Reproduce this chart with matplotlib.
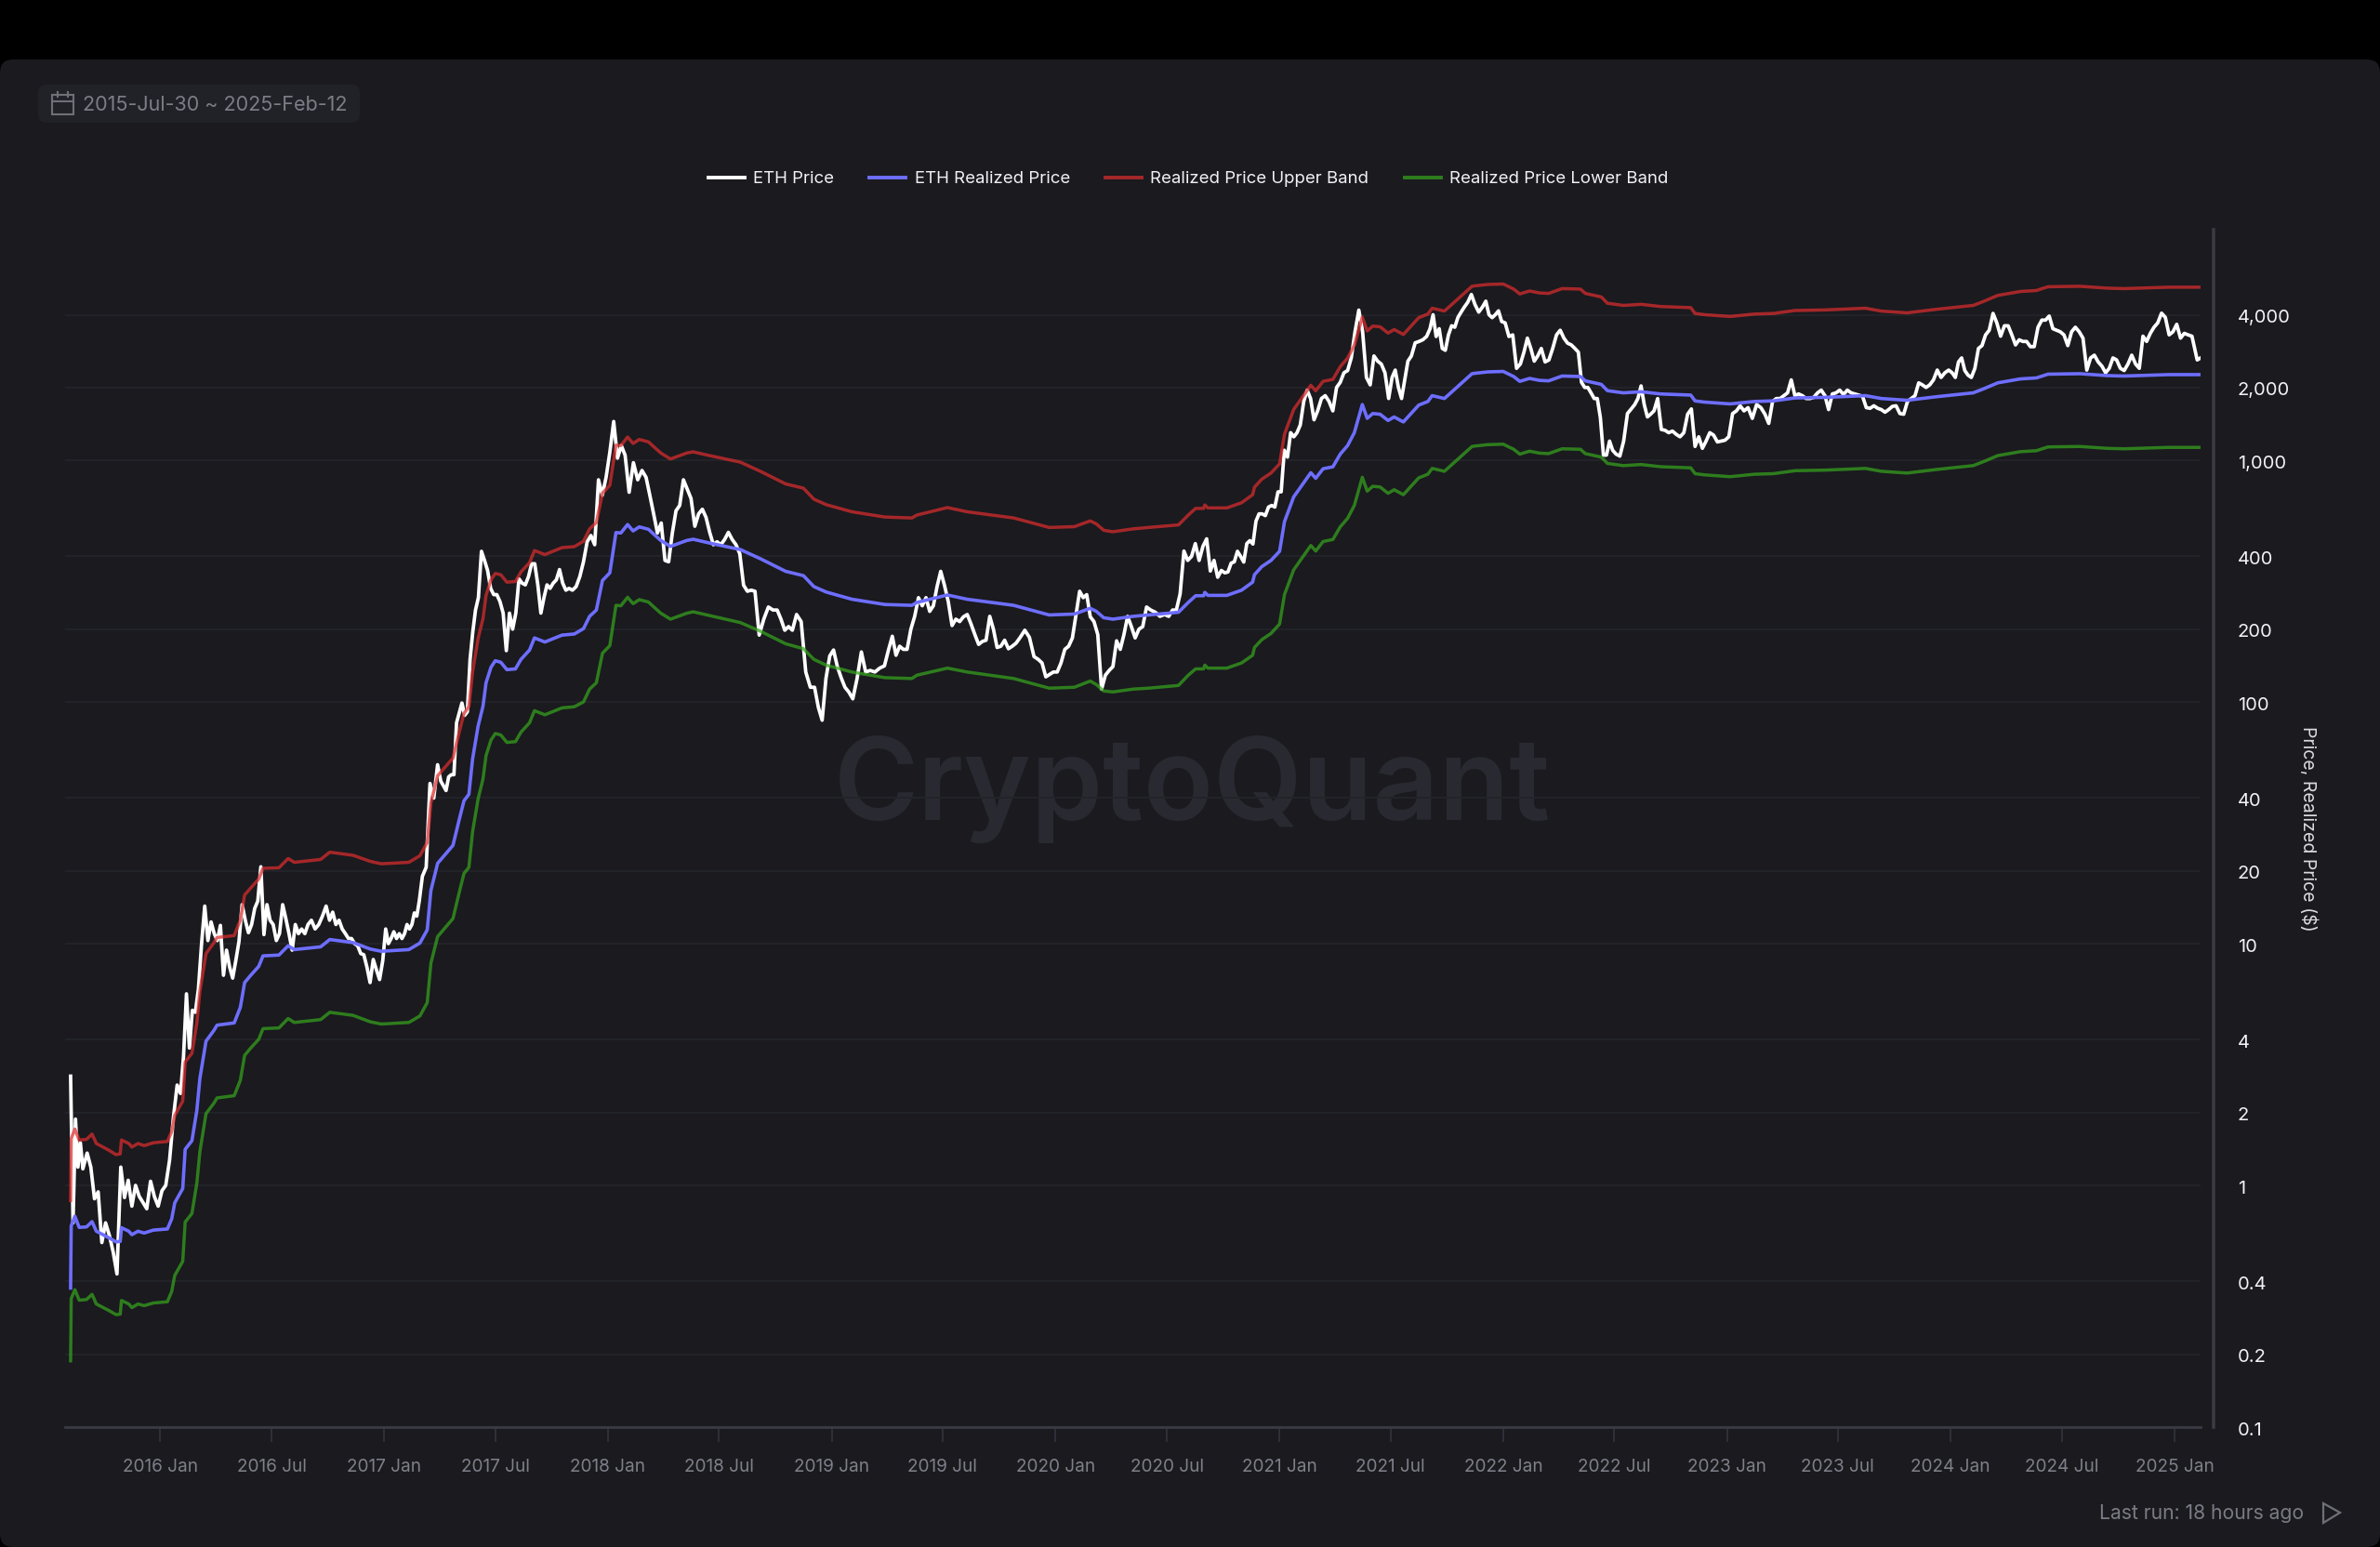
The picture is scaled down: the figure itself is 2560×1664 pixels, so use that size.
import matplotlib
matplotlib.use('Agg')
import matplotlib.pyplot as plt
from matplotlib.patches import FancyBboxPatch, Polygon, Rectangle
import numpy as np
import pandas as pd

plt.rcParams['font.family'] = ['Inter', 'DejaVu Sans']

y_ticks = [0.1, 0.2, 0.4, 1, 2, 4, 10, 20, 40, 100, 200, 400, 1000, 2000, 4000]
y_labels = ['0.1', '0.2', '0.4', '1', '2', '4', '10', '20', '40', '100', '200', '400', '1,000', '2,000', '4,000']
x_labels = ['2016 Jan', '2016 Jul', '2017 Jan', '2017 Jul', '2018 Jan', '2018 Jul', '2019 Jan', '2019 Jul',
            '2020 Jan', '2020 Jul', '2021 Jan', '2021 Jul', '2022 Jan', '2022 Jul', '2023 Jan', '2023 Jul',
            '2024 Jan', '2024 Jul', '2025 Jan']

# one row per month
price_by_month = [
    [2.83, 0.7, 1.88, 1.19, 1.5, 1.17],  # 2015 Aug
    [1.36, 1.19, 0.88, 0.94, 0.58],
    [0.7, 0.62, 0.53, 0.43, 1.19],
    [0.89, 1.05, 0.82, 1.0, 0.9],
    [0.85, 0.8, 1.04, 0.9, 0.82],
    [0.95, 1.0, 1.27, 1.9, 2.6],  # 2016 Jan
    [2.4, 3.4, 6.2, 3.7, 5.3, 5.2],
    [6.5, 10, 14.3, 10.3, 12.3, 11],
    [10.3, 11.9, 7.4, 9.4, 8, 7.2],
    [8.5, 10.2, 14.5, 12.5, 11.1, 12],
    [14, 15, 20.8, 10.9, 14.5, 12.5],
    [12, 10.3, 11, 14.5, 12.7, 11],
    [9.4, 12, 11, 11.5, 11, 12],
    [12.5, 11.5, 12, 13, 14.3],
    [12.5, 13.5, 12, 12.5, 11.5, 11],
    [10.5, 10.5, 10, 9.8, 9.1, 9],
    [8, 6.9, 8.6, 7.8, 7.1, 8.5],
    [11.5, 10, 10.5, 11.2, 10.5, 11, 10.5],  # 2017 Jan
    [11, 12, 11.5, 12, 13.4, 13, 15],
    [19, 20.7, 46, 40, 55],
    [47, 45, 43, 49, 50, 50, 82],
    [90, 99, 88, 91, 150, 195, 240],
    [270, 420, 385, 350, 295, 278],
    [278, 260, 233, 163, 233, 200],
    [233, 323, 310, 305, 330, 373],
    [373, 305, 233, 270, 305, 295],
    [310, 320, 353, 310, 290, 295],
    [290, 300, 330, 380, 460],
    [488, 447, 830, 716, 850],
    [1083, 1446, 1020, 1150, 1050],  # 2018 Jan
    [737, 977, 830, 907],
    [850, 716, 600, 500, 550],
    [385, 380, 500, 618, 650],
    [830, 760, 695, 533, 600],
    [627, 580, 503, 447, 460],
    [447, 470, 503, 470, 447],
    [410, 304, 287, 290, 287],
    [189, 220, 247, 240],
    [240, 220, 198, 205, 198],
    [230, 215, 133, 115],
    [115, 95, 84, 125, 155],
    [164, 140, 126, 115, 110],  # 2019 Jan
    [103, 125, 161, 133],
    [135, 133, 138, 141],
    [165, 187, 156, 170, 165],
    [165, 200, 226, 270, 250],
    [270, 237, 250, 300, 347],
    [304, 260, 207, 220, 215],
    [225, 230, 210, 190, 173],
    [178, 180, 226, 200, 168],
    [170, 180, 166, 170, 175],
    [185, 198, 185, 154],
    [150, 145, 127, 130, 133],
    [133, 145, 165, 170, 184],  # 2020 Jan
    [230, 287, 270, 278, 225],
    [215, 190, 113, 129, 135],
    [140, 179, 165, 190, 226],
    [205, 184, 200, 205, 247],
    [240, 235, 226, 230],
    [226, 240, 240, 280, 421],
    [385, 400, 452, 385, 440],
    [473, 348, 385, 328, 350],
    [342, 345, 375, 380, 420, 400],
    [379, 452, 465, 450, 560, 600],
    [600, 590, 640, 650, 640, 740],
    [740, 1100, 1030, 1300, 1250, 1300],  # 2021 Jan
    [1400, 1750, 1950, 1800, 1470],
    [1600, 1800, 1850, 1750, 1600],
    [2000, 2100, 2300, 2350, 2650],
    [3400, 4180, 3400, 2200, 2050],
    [2700, 2570, 2500, 2300, 1800],
    [2200, 2360, 2000, 1800, 2150, 2570],
    [2700, 3060, 3100, 3150, 3250],
    [3500, 4000, 3250, 3500, 2900, 2850],
    [3300, 3600, 3550, 3900, 4100, 4300],
    [4500, 4850, 4400, 4100, 4300],
    [4550, 4000, 3890, 4000, 4150, 3750],
    [3700, 3250, 3300, 2400, 2500],  # 2022 Jan
    [2800, 3200, 2900, 2570, 2700],
    [2900, 2550, 2600, 2900, 3300],
    [3450, 3200, 3050, 3000, 2900],
    [2800, 2100, 2000, 2000, 1900, 1800],
    [1800, 1500, 1050, 1050, 1200, 1100],
    [1060, 1040, 1200, 1560, 1630],
    [1700, 1800, 2030, 1700, 1510, 1550],
    [1600, 1800, 1340, 1330, 1300],
    [1320, 1280, 1250, 1300, 1550],
    [1630, 1140, 1250, 1120, 1200],
    [1300, 1270, 1190, 1200, 1210],
    [1250, 1560, 1600, 1680, 1600],  # 2023 Jan
    [1650, 1490, 1700, 1650],
    [1550, 1420, 1750, 1800, 1800],
    [1850, 1900, 2150, 1850, 1880],
    [1850, 1800, 1800, 1820, 1900],
    [1950, 1850, 1620, 1880, 1900],
    [1950, 1870, 1950, 1900, 1880],
    [1860, 1840, 1650, 1640, 1680],
    [1640, 1620, 1580, 1620, 1670],
    [1680, 1560, 1550, 1750, 1800],
    [1850, 2090, 2050, 2000, 2050],
    [2150, 2360, 2200, 2300, 2360],
    [2300, 2200, 2550, 2650, 2350, 2250],  # 2024 Jan
    [2200, 2400, 2900, 2980, 3300],
    [3450, 4050, 3700, 3260, 3600],
    [3600, 3300, 3000, 3150, 3100],
    [3100, 2950, 2950, 3550, 3800],
    [3800, 3950, 3500, 3450, 3400],
    [3300, 2980, 3400, 3550, 3400],
    [3200, 2360, 2650, 2720, 2550],
    [2450, 2300, 2400, 2650, 2600],
    [2400, 2350, 2500, 2720, 2500],
    [2400, 3260, 3100, 3350, 3550],
    [3700, 4060, 3900, 3300, 3400],
    [3650, 3200, 3350, 3300, 3260],  # 2025 Jan
    [3000, 2600, 2650],
]

band_dates = [
    '2015-08-08', '2015-08-09', '2015-08-15', '2015-08-22', '2015-09-03', '2015-09-12', '2015-09-19', '2015-10-09',
    '2015-10-21', '2015-10-28', '2015-10-30', '2015-11-11', '2015-11-16', '2015-11-26', '2015-12-06', '2015-12-21',
    '2016-01-13', '2016-01-20', '2016-01-25', '2016-02-07', '2016-02-11', '2016-02-22', '2016-03-01', '2016-03-06',
    '2016-03-16', '2016-03-29', '2016-04-03', '2016-05-01', '2016-05-11', '2016-05-18', '2016-05-28', '2016-06-10',
    '2016-06-17', '2016-07-13', '2016-07-28', '2016-08-07', '2016-09-19', '2016-10-04', '2016-11-11', '2016-12-09',
    '2016-12-27', '2017-02-10', '2017-02-28', '2017-03-12', '2017-03-18', '2017-03-29', '2017-04-23', '2017-05-04',
    '2017-05-11', '2017-05-19', '2017-05-25', '2017-06-03', '2017-06-11', '2017-06-16', '2017-06-24', '2017-07-01',
    '2017-07-10', '2017-07-20', '2017-08-03', '2017-08-12', '2017-08-26', '2017-09-03', '2017-09-20', '2017-10-18',
    '2017-11-07', '2017-11-22', '2017-12-02', '2017-12-13', '2017-12-23', '2018-01-04', '2018-01-14', '2018-01-22',
    '2018-02-02', '2018-02-11', '2018-02-21', '2018-03-08', '2018-03-28', '2018-04-13', '2018-05-10', '2018-05-20',
    '2018-06-18', '2018-08-05', '2018-09-07', '2018-10-18', '2018-11-16', '2018-12-03', '2018-12-23', '2019-02-03',
    '2019-03-29', '2019-05-12', '2019-05-20', '2019-07-09', '2019-08-10', '2019-10-25', '2019-12-22', '2020-02-01',
    '2020-02-27', '2020-03-08', '2020-03-20', '2020-04-04', '2020-05-07', '2020-06-01', '2020-07-20', '2020-08-05',
    '2020-08-17', '2020-08-30', '2020-09-01', '2020-09-06', '2020-10-07', '2020-10-31', '2020-11-18', '2020-11-21',
    '2020-12-03', '2020-12-18', '2021-01-01', '2021-01-09', '2021-01-24', '2021-02-21', '2021-03-01', '2021-03-13',
    '2021-03-29', '2021-04-10', '2021-04-22', '2021-05-03', '2021-05-16', '2021-05-24', '2021-06-02', '2021-06-14',
    '2021-06-27', '2021-07-07', '2021-07-22', '2021-08-16', '2021-08-31', '2021-09-07', '2021-09-27', '2021-11-11',
    '2021-11-16', '2021-12-07', '2022-01-01', '2022-01-18', '2022-01-28', '2022-02-13', '2022-03-01', '2022-03-16',
    '2022-04-07', '2022-05-07', '2022-05-15', '2022-06-10', '2022-06-20', '2022-07-16', '2022-08-14', '2022-09-15',
    '2022-11-03', '2022-11-10', '2022-11-25', '2023-01-06', '2023-02-15', '2023-03-18', '2023-04-22', '2023-06-10',
    '2023-08-15', '2023-09-10', '2023-10-22', '2023-12-08', '2024-02-07', '2024-02-23', '2024-03-18', '2024-04-24',
    '2024-05-20', '2024-06-08', '2024-07-30', '2024-09-12', '2024-10-10', '2024-12-21', '2025-02-12',
]
realized = [
    .376, .68, .745, .67, .673, .708, .646, .608, .584, .586, .668, .646, .625, .646, .635, .653,
    .66, .727, .847, .97, 1.41, 1.53, 2.04, 2.77, 3.95, 4.38, 4.6, 4.7, 5.45, 6.9, 7.4, 8.05,
    8.9, 8.97, 9.8, 9.45, 9.7, 10.4, 10.1, 9.5, 9.3, 9.45, 10.05, 11.4, 16.6, 21.5, 25.5, 33.2,
    39, 41.5, 58, 79.4, 96, 120, 139, 148, 146, 136, 137, 150, 164, 184, 177, 189,
    191, 201, 226, 240, 318, 342, 502, 500, 542, 510, 530, 518, 466, 440, 466, 471,
    453, 427, 391, 347, 333, 300, 285, 266, 253, 251, 258, 277, 266, 251, 229, 231,
    244, 237, 223, 220, 226, 229, 235, 258, 275, 275, 284, 276, 276, 290, 313, 336,
    363, 385, 420, 557, 705, 888, 842, 922, 939, 1060, 1150, 1300, 1700, 1490, 1560, 1550,
    1460, 1510, 1440, 1690, 1750, 1850, 1800, 2280, 2290, 2320, 2330, 2220, 2120, 2180, 2140, 2130,
    2230, 2220, 2130, 2060, 1940, 1900, 1920, 1880, 1860, 1760, 1740, 1710, 1750, 1760, 1810, 1820,
    1850, 1800, 1770, 1830, 1900, 1970, 2090, 2170, 2190, 2270, 2280, 2240, 2230, 2260, 2260,
]
upper_band = [
    .865, 1.56, 1.71, 1.54, 1.55, 1.63, 1.49, 1.40, 1.34, 1.35, 1.54, 1.49, 1.44, 1.49, 1.46, 1.50,
    1.52, 1.67, 1.95, 2.23, 3.24, 3.52, 4.69, 6.37, 9.09, 10.1, 10.6, 10.8, 12.5, 15.9, 17.0, 18.5,
    20.5, 20.6, 22.5, 21.7, 22.3, 23.9, 23.2, 21.9, 21.4, 21.7, 23.1, 26.2, 38.2, 49.5, 58.6, 76.4,
    89.7, 95.5, 133, 183, 221, 276, 320, 340, 336, 313, 315, 345, 377, 423, 407, 435,
    439, 462, 520, 552, 731, 787, 1155, 1150, 1247, 1173, 1219, 1191, 1072, 1012, 1072, 1083,
    1042, 982, 899, 798, 766, 690, 655, 612, 582, 577, 593, 637, 612, 577, 527, 531,
    561, 545, 513, 506, 520, 527, 540, 593, 632, 632, 653, 635, 635, 667, 720, 773,
    835, 885, 966, 1281, 1621, 2042, 1937, 2121, 2160, 2438, 2645, 2990, 3910, 3427, 3588, 3565,
    3358, 3473, 3312, 3887, 4025, 4255, 4140, 5244, 5267, 5336, 5359, 5106, 4876, 5014, 4922, 4899,
    5129, 5106, 4899, 4738, 4462, 4370, 4416, 4324, 4278, 4048, 4002, 3933, 4025, 4048, 4163, 4186,
    4255, 4140, 4071, 4209, 4370, 4531, 4807, 4991, 5037, 5221, 5244, 5152, 5129, 5198, 5198,
]
lower_band = [
    .188, .34, .37, .335, .337, .354, .323, .304, .292, .293, .334, .323, .312, .323, .318, .326,
    .33, .364, .424, .485, .705, .765, 1.02, 1.38, 1.98, 2.19, 2.3, 2.35, 2.72, 3.45, 3.7, 4.02,
    4.45, 4.48, 4.9, 4.72, 4.85, 5.2, 5.05, 4.75, 4.65, 4.72, 5.02, 5.7, 8.3, 10.7, 12.7, 16.6,
    19.5, 20.7, 29, 39.7, 48, 60, 69.5, 74, 73, 68, 68.5, 75, 82, 92, 88.5, 94.5,
    95.5, 100, 113, 120, 159, 171, 251, 250, 271, 255, 265, 259, 233, 220, 233, 236,
    227, 213, 196, 174, 166, 150, 142, 133, 126, 125, 129, 138, 133, 125, 114, 115,
    122, 118, 111, 110, 113, 114, 117, 129, 137, 137, 142, 138, 138, 145, 156, 168,
    181, 192, 210, 278, 352, 444, 421, 461, 470, 530, 575, 650, 850, 745, 780, 775,
    730, 755, 720, 845, 875, 925, 900, 1140, 1145, 1160, 1165, 1110, 1060, 1090, 1070, 1065,
    1115, 1110, 1065, 1030, 970, 950, 960, 940, 930, 880, 870, 855, 875, 880, 905, 910,
    925, 900, 885, 915, 950, 985, 1045, 1085, 1095, 1135, 1140, 1120, 1115, 1130, 1130,
]

BG = '#1a1a1f'
months = pd.date_range('2015-08-01', '2025-02-01', freq='MS').tolist()
months[0] = pd.Timestamp('2015-08-08')
edges = months + [pd.Timestamp('2025-02-12')]
price_dates = []
last = len(price_by_month) - 1
for i, vals in enumerate(price_by_month):
    n = len(vals)
    if i == 0:
        fracs = [k / n for k in range(n)]
    elif i == last:
        fracs = [k / (n - 1) for k in range(n)]
    else:
        fracs = [(k + 0.5) / n for k in range(n)]
    price_dates += [edges[i] + (edges[i + 1] - edges[i]) * f for f in fracs]
price_values = [v for vals in price_by_month for v in vals]
band_x = pd.to_datetime(band_dates)

fig = plt.figure(figsize=(25.6, 16.64), dpi=100, facecolor='black')

# page furniture, in pixels of the final image
bg = fig.add_axes([0, 0, 1, 1], zorder=0)
bg.set_xlim(0, 2560)
bg.set_ylim(1664, 0)
bg.axis('off')
bg.add_patch(FancyBboxPatch((0, 64), 2560, 1600, boxstyle='round,pad=0,rounding_size=14', fc=BG, ec='none'))
bg.add_patch(FancyBboxPatch((41, 91), 346, 41, boxstyle='round,pad=0,rounding_size=9', fc='#212228', ec='none'))
bg.add_patch(Rectangle((56, 102), 23, 21, fc='none', ec='#6f6f78', lw=1.5))
bg.plot([56, 79], [109, 109], color='#6f6f78', lw=1.5)
bg.plot([62, 62], [99, 104], color='#6f6f78', lw=1.5)
bg.plot([73, 73], [99, 104], color='#6f6f78', lw=1.5)
bg.text(89, 113, '2015-Jul-30 ~ 2025-Feb-12', color='#7d7d87', fontsize=15.5, va='center', ha='left')
bg.text(1282, 849, 'CryptoQuant', color='#292a31', fontsize=89, fontweight='semibold', va='center', ha='center')
bg.text(2478, 1628, 'Last run: 18 hours ago', color='#7b7b85', fontsize=15.2, va='center', ha='right')
bg.add_patch(Polygon([[2499, 1617], [2517, 1627], [2499, 1638]], closed=True, fc='none', ec='#6f6f78', lw=1.6))

ax = fig.add_axes([70 / 2560, 129 / 1664, 2297 / 2560, 1288 / 1664], zorder=1)
ax.patch.set_alpha(0)
ax.set_yscale('log')

ax.plot(price_dates, price_values, color='#ffffff', lw=2.7, label='ETH Price', zorder=3, solid_joinstyle='round')
ax.plot(band_x, realized, color='#6e6eff', lw=2.6, label='ETH Realized Price', zorder=4)
ax.plot(band_x, upper_band, color='#dc2d2d', alpha=0.72, lw=2.5, label='Realized Price Upper Band', zorder=5)
ax.plot(band_x, lower_band, color='#36a41d', alpha=0.72, lw=2.5, label='Realized Price Lower Band', zorder=5)

ax.set_xlim(pd.Timestamp('2015-07-30'), pd.Timestamp('2025-02-12'))
ax.set_ylim(0.1, 8995)

ax.set_xticks(pd.to_datetime(x_labels, format='%Y %b'))
ax.set_xticklabels(x_labels)
ax.yaxis.tick_right()
ax.set_yticks(y_ticks)
ax.set_yticklabels([])
ax.minorticks_off()
ax.tick_params(axis='x', length=11.5, width=1.4, color='#2f3038', labelcolor='#7f7f89', labelsize=13.7, pad=13)
ax.tick_params(axis='y', length=0)
# y labels sit a little below their grid lines in the original
for v, lab in zip(y_ticks, y_labels):
    ax.annotate(lab, xy=(1, v), xycoords=ax.get_yaxis_transform(), xytext=(28.8, -2.6), textcoords='offset points',
                color='#f2f2f4', fontsize=14.5, va='center', ha='left', annotation_clip=False)
ax.grid(axis='y', color='#232429', lw=1.4)
ax.grid(axis='x', visible=False)
ax.set_axisbelow(True)

for s in ['top', 'left']:
    ax.spines[s].set_visible(False)
ax.spines['bottom'].set_color('#3a3b44')
ax.spines['bottom'].set_linewidth(2)
ax.spines['right'].set_color('#3a3b44')
ax.spines['right'].set_linewidth(2.6)
ax.spines['right'].set_position(('outward', 10))

ax.yaxis.set_label_position('right')
ax.set_ylabel('Price, Realized Price ($)', rotation=270, color='#dcdce0', fontsize=14, va='center')
ax.yaxis.set_label_coords(1.0505, 0.5)

handles, labels = ax.get_legend_handles_labels()
leg = fig.legend(handles, labels, loc='center', bbox_to_anchor=(1278 / 2560, 1 - 192.5 / 1664), ncol=4, frameon=False,
                 fontsize=13.4, handlelength=2.1, handletextpad=0.5, columnspacing=2.05, labelcolor='#f2f2f4')
for h in leg.get_lines():
    h.set_linewidth(2.8)

plt.savefig('out.png', dpi=100, facecolor='black')
